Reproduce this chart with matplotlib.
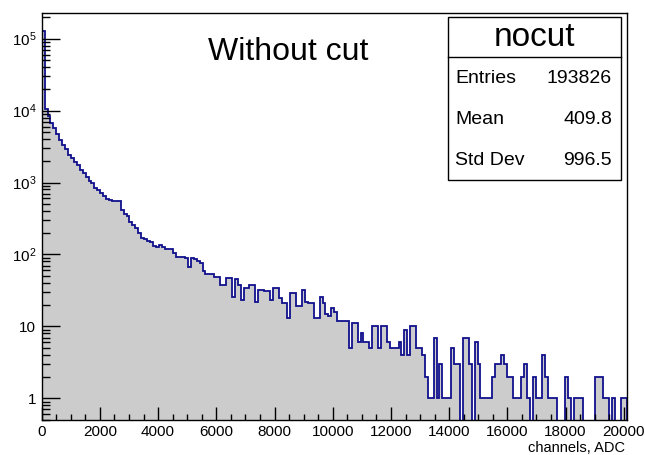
import numpy as np
import matplotlib
matplotlib.use("Agg")
import matplotlib.pyplot as plt
from matplotlib.ticker import MultipleLocator, LogLocator, FuncFormatter, NullFormatter
from matplotlib.patches import Rectangle
from matplotlib.lines import Line2D

plt.rcParams['font.family'] = ['Liberation Sans', 'DejaVu Sans']
plt.rcParams['mathtext.default'] = 'regular'

# histogram "nocut": 200 bins, 0 .. 20100 ADC channels
x_min = 0
x_max = 20100
n_bins = 200

counts = [
    128000, 10500, 8500, 6800, 5800, 4800, 3900, 3300, 2900, 2450,
    2200, 1950, 1750, 1500, 1350, 1200, 1050, 970, 850, 780,
    720, 650, 590, 570, 560, 550, 545, 420, 360, 340,
    280, 255, 235, 200, 172, 165, 152, 148, 130, 128,
    135, 125, 120, 120, 119, 105, 92, 92, 91, 90,
    66, 88, 86, 80, 76, 58, 53, 53, 53, 49,
    49, 38, 38, 47, 47, 26, 45, 38, 23, 34,
    34, 38, 38, 22, 32, 32, 31, 31, 23, 34,
    34, 25, 21, 21, 13, 29, 29, 19, 19, 32,
    22, 21, 21, 13, 13, 26, 21, 15, 14, 18,
    16, 12, 12, 12, 12, 5, 11, 11, 6, 8,
    6, 6, 5, 10, 10, 5, 10, 10, 6, 5,
    5, 5, 6, 4, 9, 4, 10, 10, 5, 5,
    4, 2, 1, 1, 7, 1, 3, 1, 1, 1,
    5, 3, 3, 0, 7, 7, 3, 0, 6, 3,
    1, 1, 1, 1, 2, 3, 3, 4, 3, 2,
    2, 1, 1, 1, 2, 3, 1, 0, 2, 1,
    1, 4, 2, 1, 1, 1, 0, 0, 0, 2,
    1, 0, 1, 1, 1, 0, 0, 0, 0, 2,
    2, 2, 1, 1, 0, 1, 0, 0, 1, 1,
]

title = "Without cut"
stat_name = "nocut"
stat_labels = ["Entries", "Mean", "Std Dev"]
stat_values = ["193826", "409.8", "996.5"]
x_label = "channels, ADC"

edges = np.linspace(x_min, x_max, n_bins + 1)
counts = np.array(counts, dtype=float)
floor = 1e-3
shown = np.where(counts > 0, counts, floor)  # empty bins drop below the axis

W, H = 645, 455
fig = plt.figure(figsize=(W / 100, H / 100), dpi=100)
ax = fig.add_axes([41.7 / W, (H - 420) / H, (626.7 - 41.7) / W, (420 - 13.3) / H])

ax.stairs(shown, edges, fill=True, baseline=floor, color='#cccccc', lw=0)
ax.stairs(shown, edges, fill=False, baseline=floor, color='#10108c', lw=1.3)

ax.set_yscale('log')
ax.set_xlim(x_min, x_max)
ax.set_ylim(0.5, 2.25e5)

# ROOT-like axes
ax.xaxis.set_major_locator(MultipleLocator(2000))
ax.xaxis.set_minor_locator(MultipleLocator(500))
ax.yaxis.set_major_locator(LogLocator(base=10, numticks=20))
ax.yaxis.set_minor_locator(LogLocator(base=10, subs=np.arange(2, 10), numticks=20))


def ylab(v, pos):
    if v == 1:
        return '1'
    if v == 10:
        return '10'
    return '$10^{%d}$' % int(round(np.log10(v)))


ax.yaxis.set_major_formatter(FuncFormatter(ylab))
ax.yaxis.set_minor_formatter(NullFormatter())
ax.tick_params(axis='both', which='both', direction='in', top=False, right=False,
               labelsize=11, color='black', width=1)
ax.tick_params(axis='x', which='major', length=9.5, pad=3.5)
ax.tick_params(axis='x', which='minor', length=4.5)
ax.tick_params(axis='y', which='major', length=13, pad=4)
ax.tick_params(axis='y', which='minor', length=6)
for s in ax.spines.values():
    s.set_linewidth(1)

fig.text(625 / W, 1 - 448 / H, x_label, ha='right', va='center', fontsize=10.5)
fig.text(288 / W, 1 - 52 / H, title, ha='center', va='center', fontsize=23)

# stats box
bx0, bx1, by0, by1 = 448, 621, 16.7, 180
fig.add_artist(Rectangle((bx0 / W, 1 - by1 / H), (bx1 - bx0) / W, (by1 - by0) / H,
                         transform=fig.transFigure, facecolor='white',
                         edgecolor='black', lw=1))
fig.add_artist(Line2D([bx0 / W, bx1 / W], [1 - 57.3 / H, 1 - 57.3 / H],
                      transform=fig.transFigure, color='black', lw=1))
fig.text((bx0 + bx1) / 2 / W, 1 - 37 / H, stat_name, ha='center', va='center', fontsize=24)
rows_y = [78.3, 120, 160.7]
for lab, val, yy in zip(stat_labels, stat_values, rows_y):
    fig.text(455 / W, 1 - yy / H, lab, ha='left', va='center', fontsize=14)
    fig.text(612 / W, 1 - yy / H, val, ha='right', va='center', fontsize=14)

fig.savefig('out.png', dpi=100)
